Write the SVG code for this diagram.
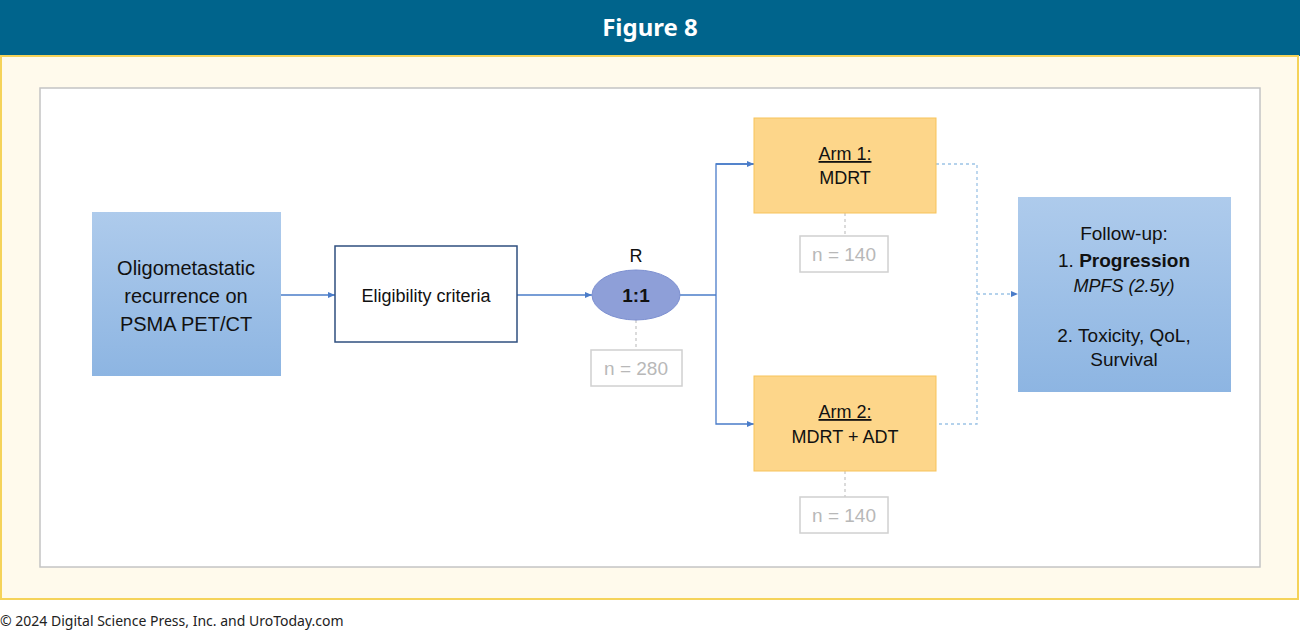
<svg xmlns="http://www.w3.org/2000/svg" width="1300" height="631" viewBox="0 0 1300 631">
<style>
text{font-family:"Liberation Sans",Arial,sans-serif;text-anchor:middle;fill:#111}
.c{stroke:#4a7cc9;stroke-width:1.3;fill:none}
.d{stroke:#9cc3e6;stroke-width:1.3;fill:none;stroke-dasharray:3 3}
.g{stroke:#c8c8c8;stroke-width:1.3;fill:none;stroke-dasharray:3 3}
.n{fill:#fff;stroke:#d0d0d0;stroke-width:1.5}
.nt{fill:#b8b8b8;font-size:19px}
.arm{fill:#fdd68a;stroke:#f7c35a;stroke-width:1}
</style>
<defs>
<marker id="a" markerWidth="8" markerHeight="8" refX="7" refY="4" orient="auto" markerUnits="userSpaceOnUse"><path d="M0,1 L7,4 L0,7z" fill="#4a7cc9"/></marker>
<linearGradient id="bl" x1="0" y1="0" x2="0" y2="1"><stop offset="0" stop-color="#aecbec"/><stop offset="1" stop-color="#8db5e2"/></linearGradient>
</defs>
<rect x="0" y="0" width="1300" height="56" fill="#00648c"/>
<text x="650" y="36" style="fill:#fff;font-size:24px;font-weight:bold;font-family:'Noto Sans',sans-serif">Figure 8</text>
<rect x="1" y="56" width="1297" height="543" fill="#fffaec" stroke="#f5d35a" stroke-width="2"/>
<rect x="40" y="88" width="1220" height="479" fill="#fff" stroke="#c4c4c4" stroke-width="1.5"/>
<text x="0" y="626" style="text-anchor:start;font-size:14px;font-family:'Noto Sans',sans-serif;fill:#222">© 2024 Digital Science Press, Inc. and UroToday.com</text>
<g id="connectors">
<path class="c" d="M281,295H335" marker-end="url(#a)"/>
<path class="c" d="M517,295H592" marker-end="url(#a)"/>
<path class="c" d="M680,295H716"/>
<path class="c" d="M754,164H716V424H754" marker-end="url(#a)"/>
<path class="c" d="M716,164H754" marker-end="url(#a)"/>
<path class="d" d="M936,164H977V424H936M977,294H1018" marker-end="url(#a)"/>
<path class="g" d="M636,320V350M845,213V236M845,471V497"/>
</g>
<g id="start"><rect x="92" y="212" width="189" height="164" fill="url(#bl)"/>
<text x="186" y="275" font-size="20">Oligometastatic</text><text x="186" y="303" font-size="20">recurrence on</text><text x="186" y="331" font-size="20">PSMA PET/CT</text></g>
<g id="elig"><rect x="335" y="246" width="182" height="96" fill="#fff" stroke="#2f4f7f" stroke-width="1.5"/>
<text x="426" y="302" font-size="18">Eligibility criteria</text></g>
<g id="rand"><ellipse cx="636" cy="295" rx="44" ry="25" fill="#8e9fd8" stroke="#7c8fd0"/>
<text x="636" y="262" font-size="18">R</text><text x="636" y="302" font-size="19" font-weight="bold">1:1</text></g>
<g id="n280"><rect class="n" x="591" y="350" width="91" height="36"/><text class="nt" x="636" y="375">n = 280</text></g>
<g id="arm1"><rect class="arm" x="754" y="118" width="182" height="95"/>
<text x="845" y="160" font-size="18" text-decoration="underline">Arm 1:</text><text x="845" y="184" font-size="18">MDRT</text></g>
<g id="n140a"><rect class="n" x="800" y="236" width="88" height="36"/><text class="nt" x="844" y="261">n = 140</text></g>
<g id="arm2"><rect class="arm" x="754" y="376" width="182" height="95"/>
<text x="845" y="418" font-size="18" text-decoration="underline">Arm 2:</text><text x="845" y="443" font-size="18">MDRT + ADT</text></g>
<g id="n140b"><rect class="n" x="800" y="497" width="88" height="36"/><text class="nt" x="844" y="522">n = 140</text></g>
<g id="follow"><rect x="1018" y="197" width="213" height="195" fill="url(#bl)"/>
<text x="1124" y="240" font-size="19">Follow-up:</text>
<text x="1124" y="267" font-size="19">1. <tspan font-weight="bold">Progression</tspan></text>
<text x="1124" y="292" font-size="18" font-style="italic">MPFS (2.5y)</text>
<text x="1124" y="342" font-size="19">2. Toxicity, QoL,</text>
<text x="1124" y="366" font-size="19">Survival</text></g>
</svg>
